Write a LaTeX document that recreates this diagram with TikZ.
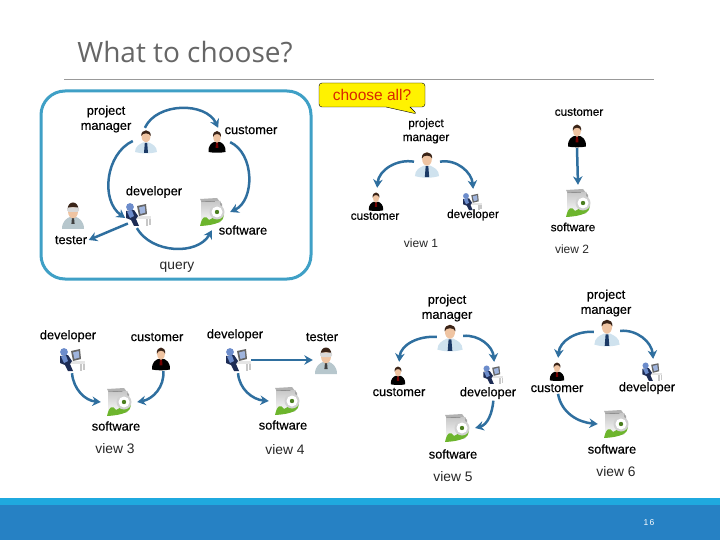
\documentclass[tikz,border=0pt]{standalone}
\usepackage{fontspec}
\setmainfont{Liberation Sans}
\newfontfamily\titlefont{Open Sans}
\newfontfamily\rolefont[FakeBold=0.45]{Liberation Sans}
\usepackage{tikz}
\usetikzlibrary{arrows.meta,shapes.callouts}

\definecolor{flow}{HTML}{2F6F9F}
\definecolor{framecol}{HTML}{3FA0C6}
\definecolor{barlight}{HTML}{1FA9DF}
\definecolor{bardark}{HTML}{2681C4}
\definecolor{skin}{HTML}{EFC4A2}
\definecolor{hairdark}{HTML}{3A2418}
\definecolor{shirt}{HTML}{CFE2EE}
\definecolor{tienavy}{HTML}{1C3A66}
\definecolor{labcoat}{HTML}{B7C7CD}
\definecolor{devblue}{HTML}{6C8CCB}
\definecolor{devnavy}{HTML}{1D2C55}
\definecolor{leafgreen}{HTML}{6DB52D}

\tikzset{
    pics/manager/.style={code={
        \fill[shirt] (-11,11) .. controls (-11,5) and (-6,3) .. (-3,1.5) -- (3,1.5) .. controls (6,3) and (11,5) .. (11,11) .. controls (4,13) and (-4,13) .. (-11,11) -- cycle;
        \fill[tienavy] (-1.2,2) -- (1.2,2) -- (2,12) -- (-2,12) -- cycle;
        \fill[skin] (0,-4.5) ellipse [x radius=4.4, y radius=6];
        \fill[hairdark] (-4.7,-5) .. controls (-5.4,-12.5) and (5.4,-12.5) .. (4.7,-5) .. controls (3.5,-8.5) and (-3.5,-8.5) .. (-4.7,-5) -- cycle;
    }},
    pics/customer/.style={code={
        \fill[black] (-8.5,11) .. controls (-9,4) and (-5,2) .. (-3,1) -- (3,1) .. controls (5,2) and (9,4) .. (8.5,11) .. controls (3,12) and (-3,12) .. (-8.5,11) -- cycle;
        \fill[red!45!black] (-1,1.5) -- (1,1.5) -- (1.4,7) -- (-1.4,7) -- cycle;
        \fill[skin] (0,-4) ellipse [x radius=3.7, y radius=5.8];
        \fill[hairdark] (-4,-4) .. controls (-4.6,-12) and (4.6,-12) .. (4,-4) .. controls (3,-8) and (-3,-8) .. (-4,-4) -- cycle;
    }},
    pics/tester/.style={code={
        \fill[labcoat] (-11,14) .. controls (-11,6) and (-6,3) .. (-3,2) -- (3,2) .. controls (6,3) and (11,6) .. (11,14) -- cycle;
        \fill[black!75] (-1,2.5) -- (1,2.5) -- (1.6,9) -- (-1.6,9) -- cycle;
        \fill[skin] (0,-3.5) ellipse [x radius=5, y radius=6.8];
        \fill[hairdark] (-5.4,-5) .. controls (-6,-15) and (6,-15) .. (5.4,-5) .. controls (4,-9) and (-4,-9) .. (-5.4,-5) -- cycle;
        \fill[black!15, rounded corners=1.5pt] (-6,-7.5) rectangle (6,-3);
    }},
    pics/developer/.style={code={
        \fill[black!10] (-2,1) -- (13,1) -- (13,4) -- (-2,4) -- cycle;
        \fill[black!22] (8,4) rectangle (10,11);
        \fill[black!22] (11,4) rectangle (13,10);
        \fill[black!60] (-1,-9) -- (8,-11) -- (9,-1) -- (1,1) -- cycle;
        \fill[devblue!65] (1,-7.5) -- (6.6,-9) -- (7.4,-2.5) -- (2.5,-1) -- cycle;
        \fill[devnavy] (-12,-4) -- (-4,-5) -- (0,1) -- (-2,4) -- (1,11) -- (-4,11) -- (-7,5) -- (-12,3) -- cycle;
        \fill[devblue] (-11,-3.5) -- (-6,-4.5) -- (-4,1) -- (-8,3) -- cycle;
        \fill[devblue] (-8,-8) circle [radius=3.9];
    }},
    pics/software/.style={code={
        \fill[black!30] (-12,-13) -- (5,-14) -- (8,-10) -- (-10,-9) -- cycle;
        \fill[top color=black!22, bottom color=white] (-11,-10) -- (8,-11) -- (8,10) -- (-11,13) -- cycle;
        \fill[black!35] (8,-10) -- (10,-8) -- (10,-2) -- (8,-2) -- cycle;
        \fill[leafgreen] (-12,14) .. controls (-10,4) and (-6,3) .. (-3,8) .. controls (1,4) and (6,8) .. (12,3) .. controls (12,9) and (6,13) .. (-12,14) -- cycle;
        \fill[black!18] (5,0) circle [radius=7.5];
        \fill[white] (5,0) circle [radius=5.5];
        \fill[leafgreen!70!black] (5,0) circle [radius=2.2];
    }}
}

\begin{document}
\begin{tikzpicture}[
    x=1pt, y=-1pt,
    iconbox/.style={circle, inner sep=0pt, minimum size=26pt},
    softbox/.style={circle, inner sep=0pt, minimum size=36pt},
    role/.style={align=center, inner sep=1.5pt, text=black, font=\rolefont\fontsize{12.8}{15}\selectfont},
    rolesm/.style={role, font=\rolefont\fontsize{11.8}{14}\selectfont},
    viewtag/.style={inner sep=1pt, text=black!85, font=\fontsize{13.8}{16}\selectfont},
    viewsm/.style={viewtag, font=\fontsize{12}{14}\selectfont},
    flowarrow/.style={-{Stealth[length=8.5pt,width=9.5pt]}, line width=2.5pt, color=flow}
]
\useasboundingbox (0,0) rectangle (720,540);

\node[inner sep=0pt, text=black!60, font=\titlefont\fontsize{28}{33}\selectfont] (title) at (185,52) {What to choose?};
\draw[black!40, line width=1pt] (64,79.3) -- (654,79.3);
\fill[barlight] (0,498) rectangle (720,505);
\fill[bardark] (0,505) rectangle (720,540);
\node[inner sep=0pt, text=white, font=\fontsize{8.5}{10}\selectfont] (pageno) at (649,523) {1\,6};

% all in one
\draw[framecol, line width=3pt, rounded corners=24pt] (41,91) rectangle (311,279);
\node[viewtag] (query) at (177,267) {query};
\node[rectangle callout, draw=black, fill=yellow, rounded corners=3pt, minimum width=106pt, minimum height=24pt, inner sep=0pt, callout absolute pointer={(417,114)}, callout pointer width=24pt, text=red!65!orange!85!black, font=\fontsize{15.5}{18}\selectfont] (choose) at (372,95) {choose all?};

\node[iconbox] (pm0) at (146,141) {}; \pic at (pm0) {manager};
\node[iconbox] (cu0) at (217,141) {}; \pic at (cu0) {customer};
\node[iconbox] (dv0) at (138,215) {}; \pic at (dv0) {developer};
\node[iconbox] (te0) at (73,215) {}; \pic at (te0) {tester};
\node[softbox] (sw0) at (212,212) {}; \pic at (sw0) {software};
\node[role] (pm0txt) at (106,119) {project\\manager};
\node[role] (cu0txt) at (251,130) {customer};
\node[role] (dv0txt) at (154,192) {developer};
\node[role] (te0txt) at (71,240) {tester};
\node[role] (sw0txt) at (243,230) {software};
\draw[flowarrow] (pm0.95) to[out=65, in=115] (cu0.85);
\draw[flowarrow] (pm0.180) to[out=205, in=145] (dv0.193);
\draw[flowarrow] (cu0.-5) to[out=335, in=25] (sw0.0);
\draw[flowarrow] (dv0.265) to[out=-60, in=-120] (sw0.270);
\draw[flowarrow] (dv0.220) -- (te0txt.east);

% view 1
\node[iconbox] (pm1) at (427,164) {}; \pic[scale=1.1] at (pm1) {manager};
\node[iconbox] (cu1) at (376,201) {}; \pic[scale=.85] at (cu1) {customer};
\node[iconbox] (dv1) at (472,202) {}; \pic[scale=.75] at (dv1) {developer};
\node[rolesm] (pm1txt) at (426,131) {project\\manager};
\node[rolesm] (cu1txt) at (375,216) {customer};
\node[rolesm] (dv1txt) at (473,215) {developer};
\node[viewsm] (view1) at (421,243) {view 1};
\draw[flowarrow] (pm1.170) to[out=170, in=85] (cu1.85);
\draw[flowarrow] (pm1.10) to[out=10, in=95] (dv1.85);

% view 2
\node[iconbox] (cu2) at (577,135) {}; \pic[scale=1.05] at (cu2) {customer};
\node[softbox] (sw2) at (578,203) {}; \pic at (sw2) {software};
\node[rolesm] (cu2txt) at (579,112) {customer};
\node[rolesm] (sw2txt) at (573,227) {software};
\node[viewsm] (view2) at (572,249) {view 2};
\draw[flowarrow] (cu2.south) -- (sw2.north);

% view 3
\node[iconbox] (dv3) at (72,360) {}; \pic at (dv3) {developer};
\node[iconbox] (cu3) at (161,358) {}; \pic[scale=1.05] at (cu3) {customer};
\node[softbox] (sw3) at (119,402) {}; \pic at (sw3) {software};
\node[role] (dv3txt) at (68,336) {developer};
\node[role] (cu3txt) at (157,337) {customer};
\node[role] (sw3txt) at (116,426) {software};
\node[viewtag] (view3) at (115,449) {view 3};
\draw[flowarrow] (dv3.270) to[out=-85, in=175] (sw3.180);
\draw[flowarrow] (cu3.-80) to[out=-85, in=10] (sw3.0);

% view 4
\node[iconbox] (dv4) at (238,360) {}; \pic at (dv4) {developer};
\node[iconbox] (te4) at (326,360) {}; \pic at (te4) {tester};
\node[softbox] (sw4) at (287,401) {}; \pic at (sw4) {software};
\node[role] (dv4txt) at (235,335) {developer};
\node[role] (te4txt) at (322,337) {tester};
\node[role] (sw4txt) at (283,425) {software};
\node[viewtag] (view4) at (285,450) {view 4};
\draw[flowarrow] (dv4.east) -- (te4.west);
\draw[flowarrow] (dv4.270) to[out=-85, in=175] (sw4.180);

% view 5
\node[iconbox] (pm5) at (450,337) {}; \pic[scale=1.15] at (pm5) {manager};
\node[iconbox] (cu5) at (398,375) {}; \pic[scale=.85] at (cu5) {customer};
\node[iconbox] (dv5) at (493,375) {}; \pic[scale=.8] at (dv5) {developer};
\node[softbox] (sw5) at (457,428) {}; \pic at (sw5) {software};
\node[role] (pm5txt) at (447,308) {project\\manager};
\node[role] (cu5txt) at (399,392) {customer};
\node[role] (dv5txt) at (488,393) {developer};
\node[role] (sw5txt) at (453,454) {software};
\node[viewtag] (view5) at (453,477) {view 5};
\draw[flowarrow] (pm5.180) to[out=175, in=85] (cu5.85);
\draw[flowarrow] (pm5.5) to[out=5, in=95] (dv5.85);
\draw[flowarrow] (dv5txt.-55) to[out=-95, in=15] (sw5.0);

% view 6
\node[iconbox] (pm6) at (607,332) {}; \pic[scale=1.15] at (pm6) {manager};
\node[iconbox] (cu6) at (557,371) {}; \pic[scale=.85] at (cu6) {customer};
\node[iconbox] (dv6) at (652,372) {}; \pic[scale=.8] at (dv6) {developer};
\node[softbox] (sw6) at (616,424) {}; \pic at (sw6) {software};
\node[role] (pm6txt) at (606,303) {project\\manager};
\node[role] (cu6txt) at (557,388) {customer};
\node[role] (dv6txt) at (647,388) {developer};
\node[role] (sw6txt) at (612,449) {software};
\node[viewtag] (view6) at (616,472) {view 6};
\draw[flowarrow] (pm6.180) to[out=175, in=85] (cu6.85);
\draw[flowarrow] (pm6.5) to[out=5, in=95] (dv6.85);
\draw[flowarrow] (cu6txt.-80) to[out=-80, in=175] (sw6.180);

\end{tikzpicture}
\end{document}
